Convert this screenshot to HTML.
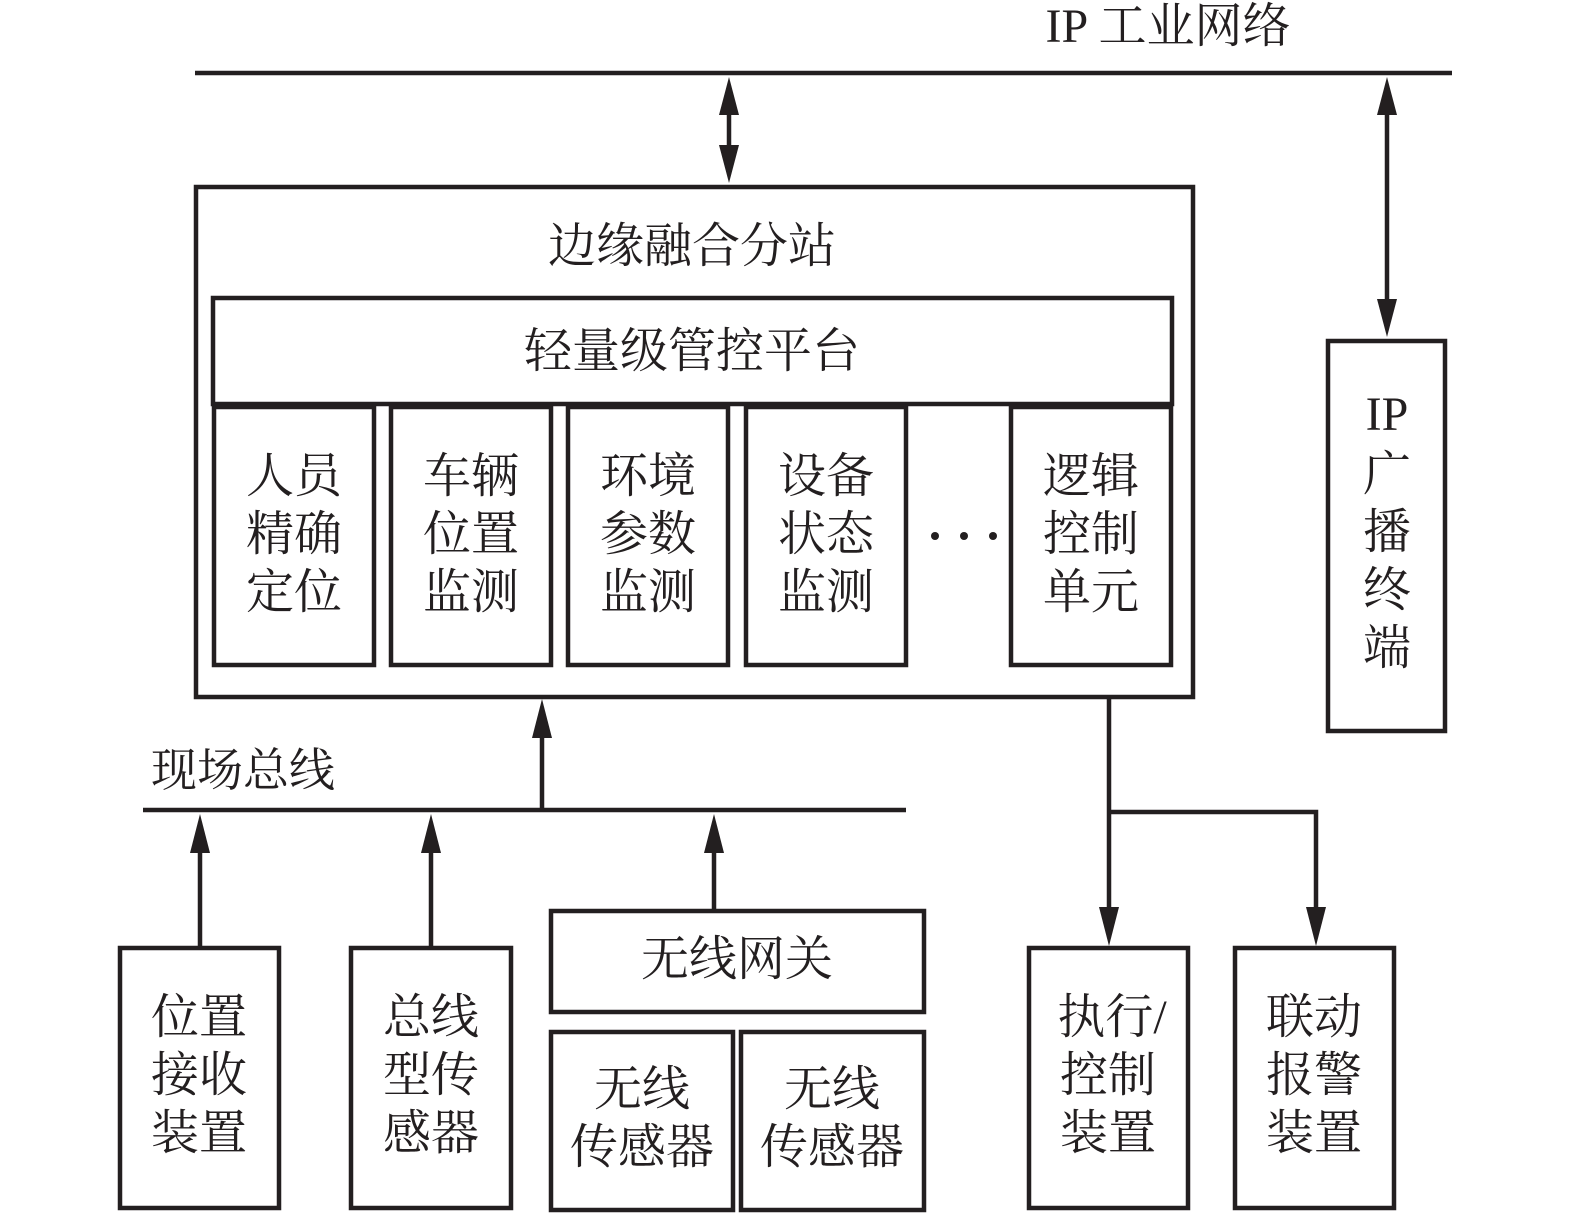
<!DOCTYPE html><html><head><meta charset="utf-8"><style>body{margin:0;background:#fff}svg{display:block}text{font-family:"Liberation Serif","Noto Serif CJK SC",serif;fill:#231f20}</style></head><body>
<svg width="1575" height="1218" viewBox="0 0 1575 1218" xmlns="http://www.w3.org/2000/svg">
<g stroke="#231f20" stroke-width="4.5" fill="none">
<line x1="195" y1="73" x2="1452" y2="73"/>
<rect x="196" y="187" width="997" height="510"/>
<rect x="213" y="298" width="959" height="106"/>
<rect x="214" y="407" width="160" height="258"/>
<rect x="391" y="407" width="160" height="258"/>
<rect x="568" y="407" width="160" height="258"/>
<rect x="746" y="407" width="160" height="258"/>
<rect x="1011" y="407" width="160" height="258"/>
<rect x="1328" y="341" width="117" height="390"/>
<line x1="729" y1="110" x2="729" y2="150"/>
<line x1="1387" y1="110" x2="1387" y2="300"/>
<line x1="143" y1="810" x2="906" y2="810"/>
<line x1="542" y1="735" x2="542" y2="810"/>
<line x1="200" y1="850" x2="200" y2="948"/>
<line x1="431" y1="850" x2="431" y2="948"/>
<line x1="714" y1="850" x2="714" y2="911"/>
<rect x="120" y="948" width="159" height="260"/>
<rect x="351" y="948" width="160" height="260"/>
<rect x="551" y="911" width="373" height="101"/>
<rect x="551" y="1032" width="182" height="178"/>
<rect x="741" y="1032" width="183" height="178"/>
<line x1="1109" y1="697" x2="1109" y2="910"/>
<polyline points="1109,812 1316,812 1316,910"/>
<rect x="1029" y="948" width="159" height="260"/>
<rect x="1235" y="948" width="159" height="260"/>
</g>
<g fill="#231f20">
<polygon points="729,77 719,115 739,115"/><polygon points="729,183 719,145 739,145"/>
<polygon points="1387,77 1377,115 1397,115"/><polygon points="1387,337 1377,299 1397,299"/>
<polygon points="542,699 532,738 552,738"/>
<polygon points="200,814 190,853 210,853"/>
<polygon points="431,814 421,853 441,853"/>
<polygon points="714,814 704,853 724,853"/>
<polygon points="1109,946 1099,907 1119,907"/>
<polygon points="1316,946 1306,907 1326,907"/>
<circle cx="935" cy="536" r="4"/><circle cx="964" cy="536" r="4"/><circle cx="993" cy="536" r="4"/>
</g>
<g font-size="48" text-anchor="middle">
<text x="1168" y="42">IP 工业网络</text>
<text x="692" y="262">边缘融合分站</text>
<text x="692" y="367">轻量级管控平台</text>
<text x="243" y="786" font-size="46">现场总线</text>
</g>
<g font-size="48" text-anchor="middle">
<text x="294" y="492">人员</text><text x="294" y="550">精确</text><text x="294" y="608">定位</text>
<text x="471" y="492">车辆</text><text x="471" y="550">位置</text><text x="471" y="608">监测</text>
<text x="648" y="492">环境</text><text x="648" y="550">参数</text><text x="648" y="608">监测</text>
<text x="826" y="492">设备</text><text x="826" y="550">状态</text><text x="826" y="608">监测</text>
<text x="1091" y="492">逻辑</text><text x="1091" y="550">控制</text><text x="1091" y="608">单元</text>
<text x="1387" y="430">IP</text><text x="1387" y="490">广</text><text x="1387" y="548">播</text><text x="1387" y="606">终</text><text x="1387" y="664">端</text>
<text x="199" y="1033">位置</text><text x="199" y="1091">接收</text><text x="199" y="1149">装置</text>
<text x="431" y="1033">总线</text><text x="431" y="1091">型传</text><text x="431" y="1149">感器</text>
<text x="737" y="975">无线网关</text>
<text x="642" y="1105">无线</text><text x="642" y="1163">传感器</text>
<text x="832" y="1105">无线</text><text x="832" y="1163">传感器</text>
<text x="1112" y="1033">执行/</text><text x="1108" y="1091">控制</text><text x="1108" y="1149">装置</text>
<text x="1314" y="1033">联动</text><text x="1314" y="1091">报警</text><text x="1314" y="1149">装置</text>
</g>
</svg></body></html>
